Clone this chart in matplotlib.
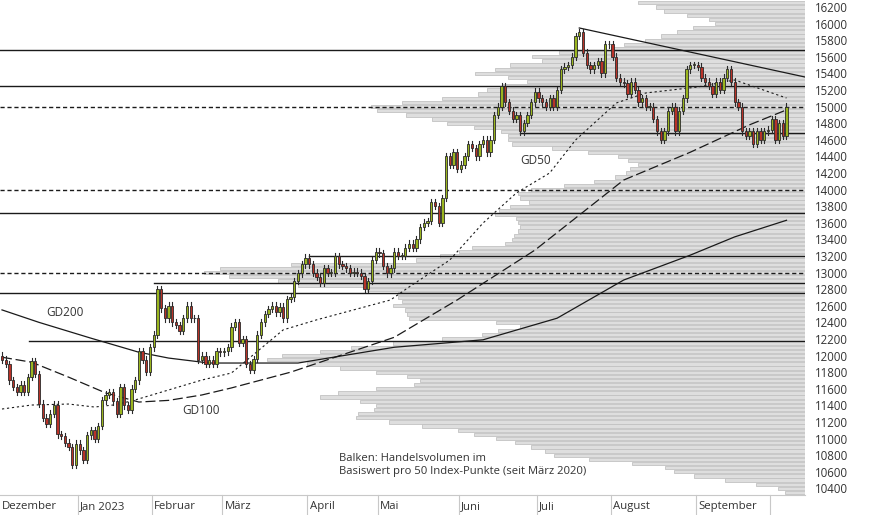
import matplotlib
matplotlib.use("Agg")
import matplotlib.pyplot as plt
import numpy as np

plt.rcParams['font.family'] = ['Open Sans', 'DejaVu Sans']

# ---------------- data ----------------
closes_dec = [11950,11900,11700,11620,11560,11650,11560,11740,11930,11780,11420,11250,11180,11300,11410,11050,11030,10950,10900,10680,10940]
closes_jan = [10860,10740,11040,11100,11000,11150,11460,11530,11560,11450,11300,11620,11400,11350,11600,11700,12050,11950,11800,12100]
closes_feb = [12250,12800,12570,12450,12600,12400,12370,12300,12450,12600,12450,12450,11950,12000,11900,11950,11900,12050,12040]
closes_mar = [12050,12100,12350,12400,12150,12200,11900,11830,11960,12250,12400,12500,12560,12600,12520,12590,12450,12680,12700,12900,12990,13100,13180]
closes_apr = [13100,13000,12950,12880,13050,13000,13000,13200,13100,13080,13050,13000,13010,13000,12960,12800,12900,13150,13250]
closes_may = [13230,13080,12990,13050,13250,13200,13200,13300,13350,13300,13400,13550,13600,13620,13850,13800,13600,13900,14400,14300,14450,14250]
closes_jun = [14300,14400,14550,14500,14400,14550,14600,14450,14600,14900,15000,15250,15050,14950,14850,14900,14700,14800,14900,15050,15180]
closes_jul = [15100,15050,15000,15100,15000,15200,15450,15480,15500,15600,15850,15900,15650,15500,15450,15500,15550,15400,15750,15750]
closes_aug = [15600,15350,15300,15280,15150,15300,15200,15050,15100,15000,15000,14850,14700,14600,14700,14950,15000,14700,14950,15100,15450,15500,15500]
closes_sep = [15480,15350,15300,15250,15150,15300,15200,15350,15450,15300,15050,15000,14700,14650,14700,14550,14700,14600,14700,14720]
closes_oct = [14850,14600,14800,14650,15000]

month_labels = ["Dezember", "Jan 2023", "Februar", "März", "April", "Mai", "Juni", "Juli", "August", "September", ""]
month_closes = [closes_dec, closes_jan, closes_feb, closes_mar, closes_apr, closes_may,
                closes_jun, closes_jul, closes_aug, closes_sep, closes_oct]

# moving averages: (trading-day index, value)
gd200_idx = [0,10,24,37,45,56,80,106,130,150,168,186,198,212]
gd200_val = [12550,12400,12210,12040,11970,11910,11910,12100,12190,12450,12910,13210,13430,13630]
gd100_idx = [0,8,18,28,37,45,54,62,78,106,123,144,168,186,202,212]
gd100_val = [11980,11920,11740,11550,11440,11460,11525,11610,11800,12220,12670,13270,14115,14450,14780,14960]
gd50_idx = [0,8,18,25,30,35,54,62,76,85,105,110,121,130,139,148,155,166,174,188,198,212]
gd50_val = [11356,11404,11416,11380,11404,11452,11705,11790,12310,12430,12670,12826,13151,13597,13959,14200,14597,15043,15164,15236,15320,15103]

# volume profile per 50 index points (relative)
prof_levels = list(range(16250, 10250, -50))
prof_vol = [167,149,141,118,96,90,112,128,144,160,181,194,246,273,263,295,310,330,297,278,303,318,327,363,403,434,428,399,373,358,331,304,297,297,293,253,217,187,177,167,175,179,190,211,241,274,287,285,276,295,306,310,289,287,285,287,291,293,300,333,346,365,389,514,585,601,576,527,507,438,407,407,403,412,400,398,396,309,285,307,323,363,412,454,485,523,538,498,465,429,398,385,391,429,467,485,445,429,431,447,449,416,383,347,331,309,290,274,260,251,216,173,140,131,111,80,49,27,20,16]

# horizontal levels: (value, start index, style)
hlines = [(15680, None, '-'), (15250, None, '-'), (15000, None, '--'), (14680, 140, '-'),
          (14000, None, '--'), (13720, None, '-'), (13200, 83, '-'), (13000, None, '--'),
          (12880, 41, '-'), (12750, None, '-'), (12175, 7.4, '-')]
trend_idx = [156, 217]
trend_val = [15947, 15356]

# ---------------- figure ----------------
fig = plt.figure(figsize=(8.74, 5.15), dpi=100)
ax = fig.add_axes([0, 20/515, 805/874, 495/515])
XMIN, XMAX = -0.54, 217.0
YMIN, YMAX = 10320, 16284

axp = ax.twiny()
axp.set_zorder(0)
ax.set_zorder(1)
ax.patch.set_visible(False)
axp.barh(prof_levels, prof_vol, height=40, color='#dedede', edgecolor='#c2c2c2', linewidth=0.6)
axp.set_xlim(805, 0)
axp.set_ylim(YMIN, YMAX)
axp.axis('off')

closes = [c for m in month_closes for c in m]
n = len(closes)
opens = [closes[0] + 50] + closes[:-1]
idx = np.arange(n)
for i in idx:
    o, c = opens[i], closes[i]
    hi = max(o, c) + 40
    lo = min(o, c) - 40
    col = '#9ab51f' if c >= o else '#b83228'
    ax.plot([i, i], [lo, hi], color='#2a2a2a', lw=0.8, zorder=3)
    ax.bar(i, max(abs(c - o), 8), bottom=min(o, c), width=0.62, color=col,
           edgecolor='#2a2a2a', linewidth=0.6, zorder=4)

for v, s, ls in hlines:
    x0 = XMIN if s is None else s
    ax.plot([x0, XMAX], [v, v], color='#1a1a1a', lw=1.0, ls=(0, (3, 2)) if ls == '--' else '-', zorder=2)

ax.plot(trend_idx, trend_val, color='#1a1a1a', lw=0.9, zorder=2)
ax.plot(gd200_idx, gd200_val, color='#1a1a1a', lw=0.9, zorder=2)
ax.plot(gd100_idx, gd100_val, color='#1a1a1a', lw=0.9, ls=(0, (8, 3)), zorder=2)
ax.plot(gd50_idx, gd50_val, color='#1a1a1a', lw=0.8, ls=(0, (2, 2.5)), zorder=2)

ax.text(12, 12513, "GD200", fontsize=8.5, color='#333333', va='center')
ax.text(48.6, 11344, "GD100", fontsize=8.5, color='#333333', va='center')
ax.text(140, 14356, "GD50", fontsize=8.5, color='#333333', va='center')
ax.text(91, 10826, "Balken: Handelsvolumen im\nBasiswert pro 50 Index-Punkte (seit März 2020)",
        fontsize=8.1, color='#333333', va='top', linespacing=1.3)

ax.set_xlim(XMIN, XMAX)
ax.set_ylim(YMIN, YMAX)
for sp in ['top', 'left', 'right']:
    ax.spines[sp].set_visible(False)
ax.spines['bottom'].set_color('#c8c8c8')
ax.set_xticks([])
ax.yaxis.tick_right()
ax.set_yticks(range(10400, 16201, 200))
ax.tick_params(axis='y', length=0, pad=7, labelsize=8.3, labelcolor='#333333')

start = 0
for lab, m in zip(month_labels, month_closes):
    xs = start - 0.5
    if start > 0:
        ax.plot([xs, xs], [0, -0.045], transform=ax.get_xaxis_transform(), color='#c8c8c8', lw=0.8, clip_on=False)
    ax.text(xs + 0.6, -0.012, lab, transform=ax.get_xaxis_transform(), fontsize=8.2,
            color='#333333', va='top', ha='left')
    start += len(m)

fig.savefig("out.png", dpi=100)
